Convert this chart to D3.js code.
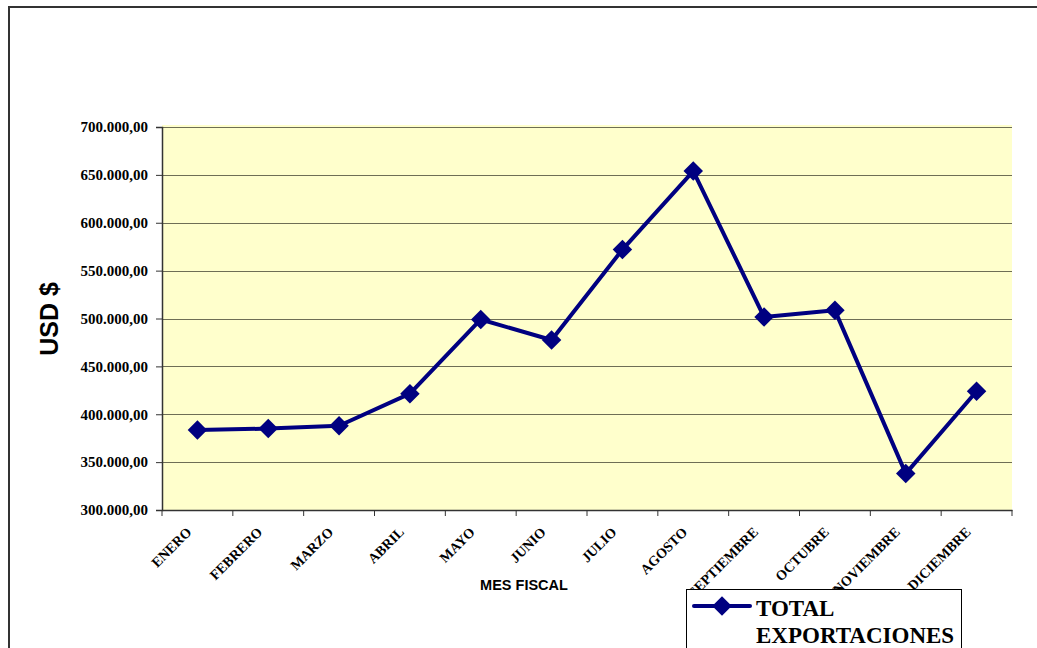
<!DOCTYPE html>
<html>
<head>
<meta charset="utf-8">
<script src="https://cdn.jsdelivr.net/npm/d3@7"></script>
<style>
 body { margin: 0; background: #fff; }
 svg { display: block; }
</style>
</head>
<body>
<svg id="chart"></svg>
<script>
const months = ["ENERO", "FEBRERO", "MARZO", "ABRIL", "MAYO", "JUNIO", "JULIO",
 "AGOSTO", "SEPTIEMBRE", "OCTUBRE", "NOVIEMBRE", "DICIEMBRE"];
const exportaciones = [383500, 385000, 388000, 421500, 499000, 477500, 572000,
 654000, 501500, 508500, 338000, 424000];
const yTicks = [300000, 350000, 400000, 450000, 500000, 550000, 600000, 650000, 700000];
const seriesName = ["TOTAL", "EXPORTACIONES"];

const width = 1037, height = 648;
const margin = { top: 127, right: 25, bottom: 138, left: 162 };

const svg = d3.select("#chart").attr("width", width).attr("height", height);

// outer chart border (cut off at right and bottom)
svg.append("path")
 .attr("d", `M9,${height + 2}V7H${width + 2}`)
 .attr("fill", "none").attr("stroke", "#333").attr("stroke-width", 2);

const x = d3.scaleBand().domain(months).range([margin.left, width - margin.right]);
const y = d3.scaleLinear().domain([300000, 700000]).range([height - margin.bottom, margin.top]);

// plot area
svg.append("rect")
 .attr("x", margin.left).attr("y", y(700000) - 2)
 .attr("width", x.range()[1] - margin.left).attr("height", y(300000) - y(700000) + 2)
 .attr("fill", "#ffffcc");

// gridlines
svg.append("g").selectAll("line")
 .data(yTicks.slice(1))
 .join("line")
 .attr("x1", margin.left).attr("x2", x.range()[1])
 .attr("y1", d => Math.round(y(d)) + 0.5).attr("y2", d => Math.round(y(d)) + 0.5)
 .attr("stroke", "#6e6e55").attr("stroke-width", 1);

const fmt = d => d3.format(",.2f")(d).replace(/,/g, "#").replace(".", ",").replace(/#/g, ".");

// y axis
const yAxis = svg.append("g")
 .attr("transform", `translate(${margin.left},0)`)
 .call(d3.axisLeft(y).tickValues(yTicks).tickFormat(fmt).tickSize(6).tickPadding(8));
yAxis.select(".domain").attr("stroke", "#333").attr("stroke-width", 1.5);
yAxis.selectAll(".tick line").attr("stroke", "#333");
yAxis.selectAll("text")
 .attr("font-family", "'Liberation Serif', 'Times New Roman', serif")
 .attr("font-weight", "bold").attr("font-size", 15).attr("fill", "#000");

// x axis
const xAxis = svg.append("g")
 .attr("transform", `translate(0,${height - margin.bottom})`)
 .call(d3.axisBottom(x).tickSize(0).tickFormat(""));
xAxis.select(".domain").attr("stroke", "#333").attr("stroke-width", 1.5);
xAxis.selectAll(".bnd")
 .data(d3.range(months.length + 1))
 .join("line")
 .attr("x1", i => margin.left + i * x.bandwidth()).attr("x2", i => margin.left + i * x.bandwidth())
 .attr("y1", 0).attr("y2", 6).attr("stroke", "#333");
xAxis.selectAll(".lbl")
 .data(months)
 .join("text")
 .attr("transform", d => `translate(${x(d) + x.bandwidth() / 2 - 5},${23}) rotate(-45)`)
 .attr("text-anchor", "end")
 .attr("font-family", "'Liberation Serif', 'Times New Roman', serif")
 .attr("font-weight", "bold").attr("font-size", 14).attr("fill", "#000")
 .text(d => d);

// axis titles
svg.append("text")
 .attr("x", 524).attr("y", 590).attr("text-anchor", "middle")
 .attr("font-family", "'Liberation Sans', Arial, sans-serif")
 .attr("font-weight", "bold").attr("font-size", 14.5)
 .text("MES FISCAL");
svg.append("text")
 .attr("transform", "translate(58,319) rotate(-90)").attr("text-anchor", "middle")
 .attr("font-family", "'Liberation Sans', Arial, sans-serif")
 .attr("font-weight", "bold").attr("font-size", 25)
 .text("USD $");

// series line
const line = d3.line()
 .x((d, i) => x(months[i]) + x.bandwidth() / 2)
 .y(d => y(d));
svg.append("path")
 .datum(exportaciones)
 .attr("d", line)
 .attr("fill", "none").attr("stroke", "#000080").attr("stroke-width", 4)
 .attr("stroke-linejoin", "round");

const diamond = d3.symbol().type(d3.symbolSquare).size(190);
svg.append("g").selectAll("path")
 .data(exportaciones)
 .join("path")
 .attr("transform", (d, i) => `translate(${x(months[i]) + x.bandwidth() / 2},${y(d)}) rotate(45)`)
 .attr("d", diamond)
 .attr("fill", "#000080");

// legend
const lg = svg.append("g");
lg.append("rect")
 .attr("x", 686.5).attr("y", 589.5).attr("width", 275).attr("height", 80)
 .attr("fill", "#fff").attr("stroke", "#000").attr("stroke-width", 1);
lg.append("line")
 .attr("x1", 694).attr("x2", 750).attr("y1", 606).attr("y2", 606)
 .attr("stroke", "#000080").attr("stroke-width", 4).attr("stroke-linecap", "round");
lg.append("path")
 .attr("transform", "translate(722,606) rotate(45)")
 .attr("d", diamond).attr("fill", "#000080");
lg.selectAll("text")
 .data(seriesName)
 .join("text")
 .attr("x", 756).attr("y", (d, i) => 616 + i * 27)
 .attr("font-family", "'Liberation Serif', 'Times New Roman', serif")
 .attr("font-weight", "bold").attr("font-size", 23).attr("fill", "#000")
 .text(d => d);
</script>
</body>
</html>
